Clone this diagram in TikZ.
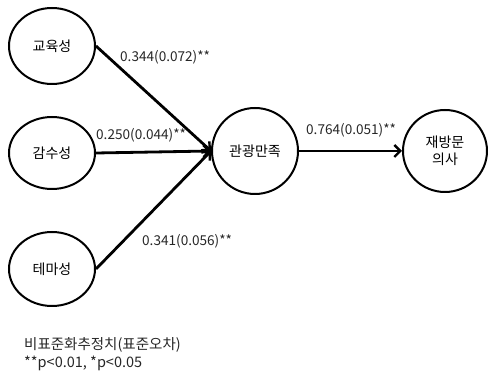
\documentclass[tikz,border=0pt]{standalone}
\usepackage{fontspec}
\setmainfont{Noto Sans CJK KR}
\usetikzlibrary{arrows.meta,shapes.geometric}
\begin{document}
\begin{tikzpicture}[x=1pt,y=1pt,
  var/.style={ellipse, draw, line width=2pt, inner sep=0pt, align=center,
    font=\fontsize{14}{16}\selectfont},
  conn/.style={line width=2.8pt, -{Straight Barb[length=6pt,width=12pt,line width=2.4pt]}},
  coef/.style={font=\fontsize{13.6}{15}\selectfont, text=black!85, inner sep=0pt, anchor=west},
  note/.style={font=\fontsize{14.5}{16}\selectfont, text=black!85, inner sep=0pt, anchor=west}]
\useasboundingbox (0,0) rectangle (488,372);
\node[var, minimum width=86pt, minimum height=76pt] (edu) at (52,326) {교육성};
\node[var, minimum width=86pt, minimum height=72pt] (sens) at (52,219) {감수성};
\node[var, minimum width=86pt, minimum height=74pt] (theme) at (52,103) {테마성};
\node[var, minimum width=86pt, minimum height=86pt] (sat) at (255,221) {관광만족};
\node[var, minimum width=84pt, minimum height=82pt, font=\fontsize{14}{17}\selectfont] (rev) at (445,221) {재방문\\의사};
\draw[conn] (edu.east) -- (sat.west);
\draw[conn] (sens.east) -- (sat.west);
\draw[conn] (theme.east) -- (sat.west);
\draw[conn] (sat.east) -- (rev.west);
\node[coef] (l1) at (120,315) {0.344(0.072)**};
\node[coef] (l2) at (96,237) {0.250(0.044)**};
\node[coef] (l3) at (142,131) {0.341(0.056)**};
\node[coef] (l4) at (306,242) {0.764(0.051)**};
\node[note] (n1) at (24,27) {비표준화추정치(표준오차)};
\node[note] (n2) at (24,9) {**p<0.01, *p<0.05};
\end{tikzpicture}
\end{document}
